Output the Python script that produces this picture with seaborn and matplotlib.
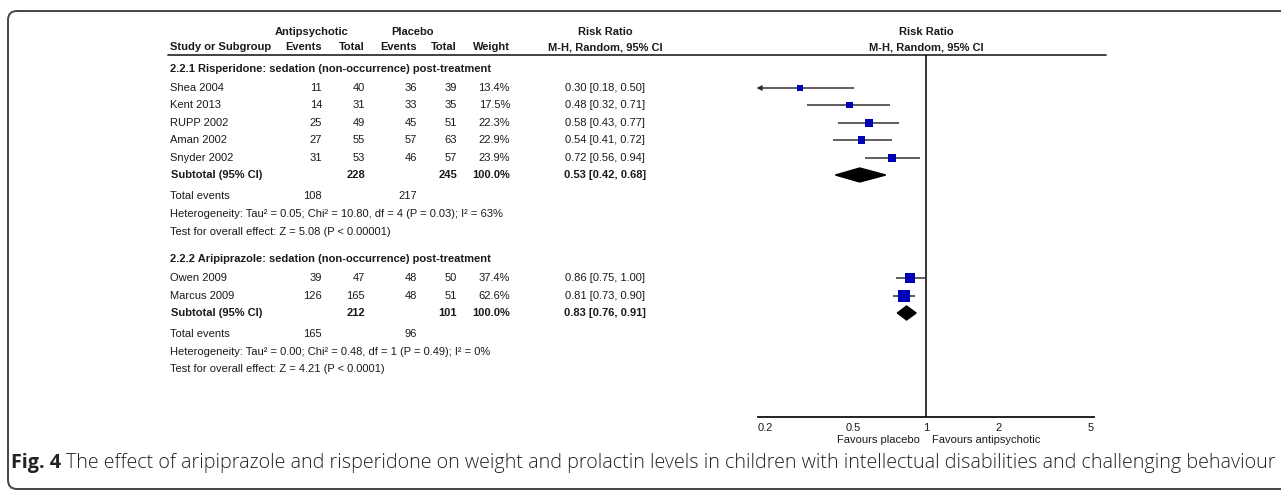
import numpy as np
import pandas as pd
import matplotlib
matplotlib.use('Agg')
import matplotlib.pyplot as plt
import seaborn as sns
from matplotlib.patches import Polygon, FancyBboxPatch
from matplotlib import font_manager

# data

# 2.2.1 Risperidone
risp_study = ['Shea 2004', 'Kent 2013', 'RUPP 2002', 'Aman 2002', 'Snyder 2002']
risp_ev_a = [11, 14, 25, 27, 31]
risp_tot_a = [40, 31, 49, 55, 53]
risp_ev_p = [36, 33, 45, 57, 46]
risp_tot_p = [39, 35, 51, 63, 57]
risp_weight = [13.4, 17.5, 22.3, 22.9, 23.9]
risp_rr = [0.30, 0.48, 0.58, 0.54, 0.72]
risp_lo = [0.18, 0.32, 0.43, 0.41, 0.56]
risp_hi = [0.50, 0.71, 0.77, 0.72, 0.94]
risp_sub = [0.53, 0.42, 0.68]

# 2.2.2 Aripiprazole
arip_study = ['Owen 2009', 'Marcus 2009']
arip_ev_a = [39, 126]
arip_tot_a = [47, 165]
arip_ev_p = [48, 48]
arip_tot_p = [50, 51]
arip_weight = [37.4, 62.6]
arip_rr = [0.86, 0.81]
arip_lo = [0.75, 0.73]
arip_hi = [1.00, 0.90]
arip_sub = [0.83, 0.76, 0.91]

group_titles = ['2.2.1 Risperidone: sedation (non-occurrence) post-treatment',
                '2.2.2 Aripiprazole: sedation (non-occurrence) post-treatment']
het_text = ['Heterogeneity: Tau\u00b2 = 0.05; Chi\u00b2 = 10.80, df = 4 (P = 0.03); I\u00b2 = 63%',
            'Heterogeneity: Tau\u00b2 = 0.00; Chi\u00b2 = 0.48, df = 1 (P = 0.49); I\u00b2 = 0%']
test_text = ['Test for overall effect: Z = 5.08 (P < 0.00001)',
             'Test for overall effect: Z = 4.21 (P < 0.0001)']

ticks = [0.2, 0.5, 1, 2, 5]
tick_labels = ['0.2', '0.5', '1', '2', '5']
caption_bold = 'Fig. 4'
caption = ('The effect of aripiprazole and risperidone on weight and prolactin levels '
           'in children with intellectual disabilities and challenging behaviour')

# layout (pixels)
W, H = 1281, 491
X_STUDY, X_EVA, X_TOTA, X_EVP, X_TOTP, X_WT, X_CI = 170, 322, 365, 417, 457, 510, 605
X_LO, X_HI = 758, 1094
Y_LINE, Y_AXIS = 55, 417
rows1 = [88, 105, 123, 140, 158]
sub1, tot1, het1, test1, title1 = 175, 196, 214, 232, 69
rows2 = [278, 296]
sub2, tot2, het2, test2, title2 = 313, 334, 352, 369, 259

names = {f.name for f in font_manager.fontManager.ttflist}
TFONT = 'Liberation Sans Narrow' if 'Liberation Sans Narrow' in names else 'Liberation Sans'
CFONT = 'Open Sans'
INK = '#1a1a1a'

sns.set_style('white')
fig = plt.figure(figsize=(W / 100, H / 100), dpi=100)
renderer = fig.canvas.get_renderer()


def fit_size(s, family, weight, target):
    t = fig.text(0, 0, s, fontsize=10, family=family, fontweight=weight)
    w = t.get_window_extent(renderer).width
    t.remove()
    return 10 * target / w


FS = fit_size(het_text[0], TFONT, 'normal', 332)

bg = fig.add_axes([0, 0, 1, 1])
bg.set_xlim(0, W)
bg.set_ylim(H, 0)
bg.axis('off')


def put(x, y, s, ha='left', bold=False):
    bg.text(x, y, s, ha=ha, va='center', fontsize=FS, family=TFONT,
            fontweight='bold' if bold else 'normal', color=INK)


# frame
bg.add_patch(FancyBboxPatch((8, 11), 1400, 478, boxstyle='round,pad=0,rounding_size=9',
                            fill=False, ec='#444444', lw=1.4, clip_on=False))

# headers
put(312, 32, 'Antipsychotic', 'center', True)
put(413, 32, 'Placebo', 'center', True)
put(X_CI, 32, 'Risk Ratio', 'center', True)
put(926, 32, 'Risk Ratio', 'center', True)
put(X_STUDY, 47, 'Study or Subgroup', bold=True)
put(X_EVA, 47, 'Events', 'right', True)
put(X_TOTA, 47, 'Total', 'right', True)
put(X_EVP, 47, 'Events', 'right', True)
put(X_TOTP, 47, 'Total', 'right', True)
put(X_WT, 47, 'Weight', 'right', True)
put(X_CI, 47, 'M-H, Random, 95% CI', 'center', True)
put(926, 47, 'M-H, Random, 95% CI', 'center', True)
bg.plot([168, 1106], [Y_LINE, Y_LINE], color='#333333', lw=1.3)

groups = [
    (risp_study, risp_ev_a, risp_tot_a, risp_ev_p, risp_tot_p, risp_weight, risp_rr, risp_lo, risp_hi,
     risp_sub, rows1, sub1, tot1, het1, test1, title1),
    (arip_study, arip_ev_a, arip_tot_a, arip_ev_p, arip_tot_p, arip_weight, arip_rr, arip_lo, arip_hi,
     arip_sub, rows2, sub2, tot2, het2, test2, title2),
]

for g, (study, ev_a, tot_a, ev_p, tot_p, wt, rr, lo, hi, sub, rows, ys, yt, yh, yz, ytitle) in enumerate(groups):
    put(X_STUDY, ytitle, group_titles[g], bold=True)
    for i in range(len(study)):
        y = rows[i]
        put(X_STUDY, y, study[i])
        put(X_EVA, y, str(ev_a[i]), 'right')
        put(X_TOTA, y, str(tot_a[i]), 'right')
        put(X_EVP, y, str(ev_p[i]), 'right')
        put(X_TOTP, y, str(tot_p[i]), 'right')
        put(X_WT, y, f'{wt[i]:.1f}%', 'right')
        put(X_CI, y, f'{rr[i]:.2f} [{lo[i]:.2f}, {hi[i]:.2f}]', 'center')
    put(X_STUDY + 1, ys, 'Subtotal (95% CI)', bold=True)
    put(X_TOTA, ys, str(sum(tot_a)), 'right', True)
    put(X_TOTP, ys, str(sum(tot_p)), 'right', True)
    put(X_WT, ys, f'{sum(wt):.1f}%', 'right', True)
    put(X_CI, ys, f'{sub[0]:.2f} [{sub[1]:.2f}, {sub[2]:.2f}]', 'center', True)
    put(X_STUDY, yt, 'Total events')
    put(X_EVA, yt, str(sum(ev_a)), 'right')
    put(X_EVP, yt, str(sum(ev_p)), 'right')
    put(X_STUDY, yh, het_text[g])
    put(X_STUDY, yz, test_text[g])

# caption
CS = fit_size(caption_bold + ' ' + caption, CFONT, 'light', 1262)
t = bg.text(11, 463, caption_bold, ha='left', va='center', fontsize=CS, family=CFONT,
            fontweight='bold', color='#222222')
bw = t.get_window_extent(renderer).width
bg.text(11 + bw + CS * 0.35, 463, caption, ha='left', va='center', fontsize=CS, family=CFONT,
        fontweight='light', color='#222222')

# forest plot
ax = fig.add_axes([X_LO / W, 1 - Y_AXIS / H, (X_HI - X_LO) / W, (Y_AXIS - Y_LINE) / H])
ax.set_facecolor('none')
ax.set_xscale('log')
ax.set_xlim(ticks[0], ticks[-1])
ax.set_ylim(Y_AXIS, Y_LINE)
for side in ['top', 'left', 'right']:
    ax.spines[side].set_visible(False)
ax.spines['bottom'].set_color('#111111')
ax.spines['bottom'].set_linewidth(1.3)
ax.axvline(1, color='#111111', lw=1.2)
ax.set_yticks([])

forest = pd.DataFrame({
    'rr': risp_rr + arip_rr,
    'lo': risp_lo + arip_lo,
    'hi': risp_hi + arip_hi,
    'weight': risp_weight + arip_weight,
    'y': rows1 + rows2,
})

for _, r in forest.iterrows():
    if r['lo'] < ticks[0]:
        ax.annotate('', xy=(ticks[0] * 0.985, r['y']), xytext=(r['hi'], r['y']),
                    arrowprops=dict(arrowstyle='-|>', color='#333333', lw=1.1, mutation_scale=7,
                                    shrinkA=0, shrinkB=0), annotation_clip=False)
    else:
        ax.hlines(r['y'], r['lo'], r['hi'], color='#333333', lw=1.1)

side_pt = np.sqrt(2.5 * forest['weight']) * 0.72
sns.scatterplot(data=forest, x='rr', y='y', marker='s', color='#0000b8', s=side_pt ** 2,
                linewidth=0, ax=ax, zorder=3, legend=False)

for sub, ys in [(risp_sub, sub1), (arip_sub, sub2)]:
    ax.add_patch(Polygon([[sub[1], ys], [sub[0], ys - 7], [sub[2], ys], [sub[0], ys + 7]],
                         closed=True, color='black', zorder=3))

ax.set_xticks(ticks)
ax.set_xticklabels(tick_labels)
ax.minorticks_off()
ax.tick_params(axis='x', direction='inout', length=8, width=1.1, color='#111111', pad=0,
               labelsize=FS, labelcolor=INK)
for lab in ax.get_xticklabels():
    lab.set_family(TFONT)
labs = ax.get_xticklabels()
labs[0].set_ha('left')
labs[-1].set_ha('right')
ax.set_xlabel('')
ax.set_ylabel('')

put(920, 440, 'Favours placebo', 'right')
put(932, 440, 'Favours antipsychotic', 'left')

fig.savefig('out.png', dpi=100)
